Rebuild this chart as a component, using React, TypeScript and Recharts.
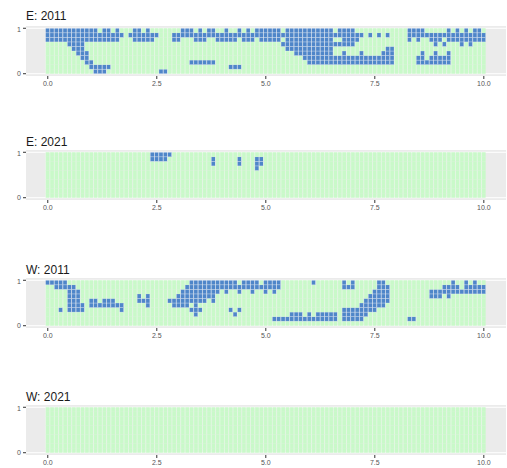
import React from 'react';
import { BarChart, Bar, XAxis, YAxis, CartesianGrid } from 'recharts';

const FONT = '"Liberation Sans", Arial, sans-serif';
const GREEN = '#c9f9c9';
const BLUE = '#4f86c9';

// x categories (one tile column each)
const COLUMN_LABELS = '0.0 0.1 0.2 0.3 0.4 0.5 0.6 0.7 0.8 0.9 1.0 1.1 1.2 1.3 1.4 1.5 1.6 1.7 1.8 1.9 2.0 2.1 2.2 2.3 2.4 2.5 2.6 2.7 2.8 2.9 3.0 3.1 3.2 3.3 3.4 3.5 3.6 3.7 3.8 3.9 4.0 4.1 4.2 4.3 4.4 4.5 4.6 4.7 4.8 4.9 5.0 5.1 5.2 5.3 5.4 5.5 5.6 5.7 5.8 5.9 6.0 6.1 6.2 6.3 6.4 6.5 6.6 6.7 6.8 6.9 7.0 7.1 7.2 7.3 7.4 7.5 7.6 7.7 7.8 7.9 8.0 8.1 8.2 8.3 8.4 8.5 8.6 8.7 8.8 8.9 9.0 9.1 9.2 9.3 9.4 9.5 9.6 9.7 9.8 9.9 10.0'.split(' ');
const X_TICKS = ['0.0', '2.5', '5.0', '7.5', '10.0'];
const Y_TICKS = [0, 1];
// tile rows, r0 = top row, r9 = bottom row; each row band is 0.1 tall
const ROW_KEYS = ['r0', 'r1', 'r2', 'r3', 'r4', 'r5', 'r6', 'r7', 'r8', 'r9'];
const ROW_BAND = 0.1;

// blue tile runs: [row, fromX, toX]
type Run = [number, number, number];

const E2011_BLUE: Run[] = [
  [0, 0.0, 1.0], [1, 0.0, 1.0], [2, 0.0, 1.0],
  [3, 0.5, 0.8], [4, 0.6, 0.8], [5, 0.7, 0.9], [6, 0.8, 0.9], [7, 0.9, 1.0], [8, 1.0, 1.4], [9, 1.1, 1.3],
  [0, 1.1, 1.1], [0, 1.3, 1.4], [0, 1.6, 1.6], [0, 2.0, 2.1], [0, 2.3, 2.3],
  [1, 1.1, 1.7], [1, 1.9, 2.5],
  [2, 1.1, 1.6], [2, 2.0, 2.4],
  [9, 2.6, 2.7],
  [1, 2.9, 5.0],
  [0, 3.1, 3.3], [0, 3.5, 3.5], [0, 3.7, 3.8], [0, 4.1, 4.1], [0, 4.4, 4.4], [0, 4.6, 4.6], [0, 4.8, 5.0],
  [2, 2.9, 3.0], [2, 3.4, 3.6], [2, 3.9, 4.3], [2, 4.5, 4.7], [2, 4.9, 5.0],
  [7, 3.3, 3.8], [8, 4.2, 4.4],
  [0, 5.1, 5.3], [0, 5.5, 5.9], [0, 6.0, 6.5], [0, 6.7, 7.0],
  [1, 5.1, 7.2], [1, 7.4, 7.4], [1, 7.6, 7.6], [1, 7.8, 7.8],
  [2, 5.1, 5.3], [2, 5.5, 6.5], [2, 6.8, 7.1],
  [3, 5.4, 7.0], [4, 5.5, 6.5], [5, 5.7, 6.5], [6, 5.9, 7.9], [7, 6.0, 7.9],
  [5, 6.8, 6.8], [5, 7.2, 7.2], [5, 7.7, 7.9], [4, 7.8, 7.9],
  [0, 8.3, 8.6], [0, 9.2, 9.2], [0, 9.4, 9.4], [0, 9.6, 9.6], [0, 9.8, 9.9],
  [1, 8.3, 10.0],
  [2, 8.3, 8.3], [2, 8.5, 8.5], [2, 8.8, 9.0], [2, 9.2, 10.0],
  [3, 8.9, 8.9], [3, 9.1, 9.1], [3, 9.5, 9.5], [3, 9.7, 9.7],
  [7, 8.5, 9.2], [6, 8.5, 8.6], [6, 8.8, 9.2],
  [5, 8.6, 8.6], [5, 8.9, 8.9], [5, 9.2, 9.2],
];

const E2021_BLUE: Run[] = [
  [0, 2.4, 2.8], [1, 2.4, 2.7],
  [1, 3.8, 3.8], [2, 3.8, 3.8],
  [1, 4.4, 4.4], [2, 4.4, 4.4],
  [1, 4.8, 4.9], [2, 4.8, 4.9], [3, 4.8, 4.8],
];

const W2011_BLUE: Run[] = [
  [0, 0.0, 0.4], [1, 0.2, 0.6],
  [2, 0.5, 0.7], [3, 0.5, 0.7], [4, 0.5, 0.7], [5, 0.5, 0.8], [6, 0.3, 0.3], [6, 0.5, 0.8],
  [5, 1.0, 1.5], [4, 1.0, 1.1], [4, 1.3, 1.5], [5, 1.6, 1.7], [6, 1.7, 1.7],
  [3, 2.1, 2.1], [4, 2.1, 2.2], [3, 2.3, 2.3], [4, 2.3, 2.3], [5, 2.3, 2.3],
  [4, 2.8, 2.8],
  [0, 3.3, 3.9], [0, 4.0, 4.3], [0, 4.5, 4.8], [0, 5.0, 5.3],
  [1, 3.2, 5.3],
  [2, 3.1, 3.9], [2, 4.1, 4.1], [2, 4.4, 4.4], [2, 4.7, 4.7], [2, 5.0, 5.0], [2, 5.2, 5.2],
  [3, 3.0, 3.8], [4, 2.9, 3.6], [4, 3.8, 3.8], [5, 2.9, 3.2], [5, 3.4, 3.4],
  [6, 3.3, 3.5], [7, 3.4, 3.4],
  [6, 4.2, 4.2], [6, 4.4, 4.4], [7, 4.3, 4.3],
  [0, 6.1, 6.1],
  [0, 6.8, 6.8], [0, 7.0, 7.0], [1, 6.8, 7.0],
  [0, 7.6, 7.7], [1, 7.6, 7.8], [2, 7.5, 7.8], [3, 7.4, 7.8], [4, 7.3, 7.8], [5, 7.2, 7.7],
  [6, 6.8, 7.5],
  [7, 5.6, 5.8], [7, 6.0, 6.0], [7, 6.2, 6.6], [7, 6.8, 7.3],
  [8, 5.2, 6.6], [8, 6.8, 7.2],
  [8, 8.3, 8.4],
  [2, 8.8, 10.0], [1, 9.1, 9.4], [1, 9.6, 10.0],
  [0, 9.3, 9.3], [0, 9.6, 9.6], [0, 9.8, 9.8],
  [3, 8.8, 9.0], [3, 9.2, 9.2],
];

const W2021_BLUE: Run[] = [];

const PANEL_TITLES = ['E: 2011', 'E: 2021', 'W: 2011', 'W: 2021'];
const PANEL_RUNS = [E2011_BLUE, E2021_BLUE, W2011_BLUE, W2021_BLUE];

// layout only
const PANEL_TOPS = [26, 150, 278, 405];
const TITLE_TOPS = [10, 136, 264, 391];

const gridData = COLUMN_LABELS.map((x) => {
  const o: any = { x };
  ROW_KEYS.forEach((k) => { o[k] = ROW_BAND; });
  return o;
});

function Tile(p: any) {
  const { x, y, width, height, row, blue } = p;
  const col = p.payload && p.payload.x != null ? Math.round(parseFloat(p.payload.x) * 10) : p.index;
  if (blue.has(row + ':' + col)) {
    return (
      <rect x={x} y={y} width={width} height={height} fill={BLUE}
        stroke="#ffffff" strokeOpacity={0.5} strokeWidth={0.5} />
    );
  }
  return (
    <g>
      <rect x={x} y={y} width={width} height={height} fill={GREEN} />
      <line x1={x} x2={x} y1={y} y2={y + height} stroke="#ffffff" strokeOpacity={0.6} strokeWidth={0.5} />
    </g>
  );
}

function Panel({ title, runs, top, titleTop }: { title: string; runs: Run[]; top: number; titleTop: number }) {
  const blue = new Set<string>();
  runs.forEach(([row, x1, x2]) => {
    for (let c = Math.round(x1 * 10); c <= Math.round(x2 * 10); c++) blue.add(row + ':' + c);
  });
  const stackOrder = [...ROW_KEYS].reverse();
  const tickStyle = { fill: '#555555', stroke: 'none', fontSize: 7, fontFamily: FONT };
  return (
    <>
      <div style={{ position: 'absolute', left: 26, top: titleTop, fontSize: 12, lineHeight: '12px', color: '#1a1a1a', whiteSpace: 'nowrap' }}>
        {title}
      </div>
      <div style={{ position: 'absolute', left: 0, top }}>
        <BarChart width={507} height={72} data={gridData} margin={{ top: 0, right: 1, bottom: 0, left: 0 }} barCategoryGap={0} barGap={0}>
          <CartesianGrid fill="#ebebeb" fillOpacity={1} stroke="#ffffff" vertical={false} horizontalValues={[0, 0.5, 1]} />
          <XAxis dataKey="x" type="category" ticks={X_TICKS} interval={0} axisLine={false}
            tickLine={{ stroke: '#333333' }} tickSize={3} tickMargin={2} height={22}
            padding={{ left: 19.6, right: 20 }} tick={tickStyle} />
          <YAxis type="number" domain={[-0.05, 1.05]} ticks={Y_TICKS} allowDataOverflow width={26}
            axisLine={false} tickLine={{ stroke: '#333333' }} tickSize={3} tickMargin={2} tick={tickStyle} />
          {stackOrder.map((key) => {
            const row = Number(key.slice(1));
            return (
              <Bar key={key} dataKey={key} stackId="tiles" isAnimationActive={false}
                shape={(p: any) => <Tile {...p} row={row} blue={blue} />} />
            );
          })}
        </BarChart>
      </div>
    </>
  );
}

export default function App() {
  return (
    <div style={{ position: 'absolute', left: 0, top: 0, width: 507, height: 468, background: '#ffffff', fontFamily: FONT, overflow: 'hidden' }}>
      {PANEL_TITLES.map((t, i) => (
        <Panel key={t} title={t} runs={PANEL_RUNS[i]} top={PANEL_TOPS[i]} titleTop={TITLE_TOPS[i]} />
      ))}
    </div>
  );
}
